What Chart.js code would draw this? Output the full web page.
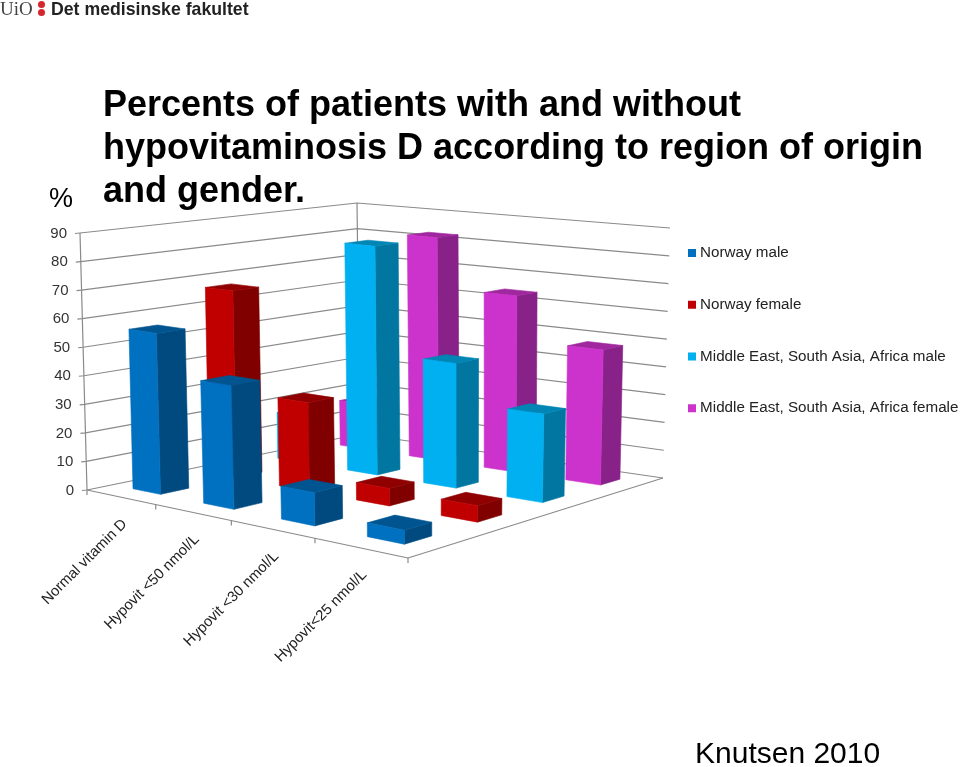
<!DOCTYPE html>
<html>
<head>
<meta charset="utf-8">
<title>Percents of patients with and without hypovitaminosis D</title>
<script src="https://cdn.jsdelivr.net/npm/chart.js@4"></script>
<style>
html,body{margin:0;padding:0;background:#fff;width:960px;height:767px;overflow:hidden}
#wrap{position:relative;width:960px;height:767px}
canvas{position:absolute;left:0;top:0}
.t{position:absolute;white-space:nowrap;font-family:"Liberation Sans",Arial,sans-serif;color:#000}
.dot{position:absolute;width:7px;height:7px;border-radius:50%;background:#d5262d}
</style>
</head>
<body>
<div id="wrap">
<canvas id="c" width="960" height="767"></canvas>
<div class="t" style="left:0;top:0;font:19px/18px 'Liberation Serif',serif;color:#444">UiO</div>
<div class="dot" style="left:38px;top:1px"></div>
<div class="dot" style="left:38px;top:9px"></div>
<div class="t" style="left:51px;top:0;font-weight:bold;font-size:17.7px;line-height:18px;color:#222">Det medisinske fakultet</div>
<div class="t" style="left:103px;top:82px;font-weight:bold;font-size:36px;line-height:43px">Percents of patients with and without<br>hypovitaminosis D according to region of origin<br>and gender.</div>
<div class="t" style="left:49px;top:183px;font-size:27px;line-height:30px">%</div>
<div class="t" style="left:695px;top:736px;font-size:30px;line-height:34px">Knutsen 2010</div>
</div>
<script>
const categories = ["Normal vitamin D", "Hypovit <50 nmol/L", "Hypovit <30 nmol/L", "Hypovit<25 nmol/L"];
const seriesNames = ["Norway male", "Norway female", "Middle East, South Asia, Africa male", "Middle East, South Asia, Africa female"];
const norwayMale = [56, 42, 11, 4.5];
const norwayFemale = [67, 31, 6, 5.5];
const meaMale = [17, 82.5, 44, 30.5];
const meaFemale = [17, 82.5, 64, 48];
const seriesValues = [norwayMale, norwayFemale, meaMale, meaFemale];
const frontColors = ["#0070C0", "#C00000", "#00B0F0", "#CC33CC"];
const sideColors = ["#004A80", "#800000", "#0076A0", "#882288"];
const topColors = ["#005590", "#900000", "#0085B5", "#A0289F"];
const yMin = 0, yMax = 90, yStep = 10;

// Perspective of the 3-D box the chart stands in: floor and ceiling quads
const floorCorners = [[87,490],[408,558],[663,478],[360,434]];
const ceilCorners = [[80,233],[408,273],[670,228],[357,203]];
const halfBarU = 0.05, halfBarV = 0.045;

function quad(corners){
  const [[x0,y0],[x1,y1],[x2,y2],[x3,y3]] = corners;
  const dx1=x1-x2, dy1=y1-y2, dx2=x3-x2, dy2=y3-y2, dx3=x0-x1+x2-x3, dy3=y0-y1+y2-y3;
  const den=dx1*dy2-dx2*dy1;
  const g=(dx3*dy2-dx2*dy3)/den, h=(dx1*dy3-dx3*dy1)/den;
  const a=x1-x0+g*x1, b=x3-x0+h*x3, c=x0, d=y1-y0+g*y1, e=y3-y0+h*y3, f=y0;
  return (u,v)=>{
    const w=g*u+h*v+1;
    return [(a*u+b*v+c)/w,(d*u+e*v+f)/w];
  };
}
const floorMap = quad(floorCorners), ceilMap = quad(ceilCorners);
function P(u,v,t){
  const a=floorMap(u,v), b=ceilMap(u,v);
  return [a[0]+(b[0]-a[0])*t, a[1]+(b[1]-a[1])*t];
}

function poly(ctx,pts,fill){
  ctx.beginPath();
  pts.forEach((pt,i)=>i?ctx.lineTo(pt[0],pt[1]):ctx.moveTo(pt[0],pt[1]));
  ctx.closePath();
  ctx.fillStyle=fill;
  ctx.fill();
  ctx.strokeStyle=fill;
  ctx.lineWidth=0.6;
  ctx.stroke();
}
function line(ctx,a,b){
  ctx.beginPath();ctx.moveTo(a[0],a[1]);ctx.lineTo(b[0],b[1]);ctx.stroke();
}

const scene3d = {
  id:"scene3d",
  beforeDraw(chart){
    const lg=chart.legend, top=209;
    const h=lg.bottom-lg.top;
    lg.top=top; lg.bottom=top+h;
    const w=lg.right-lg.left;
    lg.left=655; lg.right=655+w;
  },
  beforeDatasetsDraw(chart){
    const {ctx,scales:{x,y}}=chart;
    const frac=v=>(y.bottom-y.getPixelForValue(v))/y.height;
    const uOf=i=>(x.getPixelForValue(i)-x.left)/x.width;
    const cell=1/categories.length;
    ctx.save();
    // walls
    ctx.strokeStyle="#8a8a8a";
    ctx.lineWidth=1.2;
    y.ticks.forEach(t=>{
      const h=frac(t.value);
      const a=P(0,0,h), d=P(0,1,h), c=P(1,1,h);
      ctx.beginPath();
      ctx.moveTo(a[0]-5,a[1]+0.5);
      ctx.lineTo(a[0],a[1]);ctx.lineTo(d[0],d[1]);ctx.lineTo(c[0],c[1]);
      ctx.stroke();
      ctx.fillStyle="#333";
      ctx.font="15px 'Liberation Sans'";
      ctx.textAlign="right";ctx.textBaseline="middle";
      ctx.fillText(t.label,a[0]-13,a[1]+0.5);
    });
    line(ctx,P(0,0,0),P(0,0,1));
    line(ctx,P(0,1,0),P(0,1,1));
    // floor edges and category ticks
    line(ctx,P(0,0,0),P(1,0,0));
    line(ctx,P(1,0,0),P(1,1,0));
    for(let k=0;k<=categories.length;k++){
      const b=P(k*cell,0,0);
      line(ctx,b,[b[0],b[1]+5]);
    }
    // boxes, back row first
    for(let s=seriesValues.length-1;s>=0;s--){
      const vc=(s+0.5)/seriesValues.length;
      const v0=vc-halfBarV, v1=vc+halfBarV;
      categories.forEach((_,i)=>{
        const uc=uOf(i), u0=uc-halfBarU, u1=uc+halfBarU;
        const t=frac(seriesValues[s][i]);
        poly(ctx,[P(u1,v0,0),P(u1,v1,0),P(u1,v1,t),P(u1,v0,t)],sideColors[s]);
        poly(ctx,[P(u0,v0,t),P(u1,v0,t),P(u1,v1,t),P(u0,v1,t)],topColors[s]);
        poly(ctx,[P(u0,v0,0),P(u1,v0,0),P(u1,v0,t),P(u0,v0,t)],frontColors[s]);
      });
    }
    // category labels
    ctx.fillStyle="#222";
    ctx.font="14.8px 'Liberation Sans'";
    ctx.textAlign="right";ctx.textBaseline="top";
    categories.forEach((lab,i)=>{
      const b=P(uOf(i),0,0);
      ctx.save();
      ctx.translate(b[0]-1,b[1]+19.5);
      ctx.rotate(-Math.PI/4);
      ctx.fillText(lab,0,0);
      ctx.restore();
    });
    ctx.restore();
    return false;
  }
};

new Chart(document.getElementById("c"),{
  type:"bar",
  data:{
    labels:categories,
    datasets:seriesNames.map((n,s)=>({label:n,data:seriesValues[s],backgroundColor:frontColors[s]}))
  },
  plugins:[scene3d],
  options:{
    responsive:false,
    animation:false,
    layout:{padding:{top:233,bottom:277,left:0,right:0}},
    scales:{
      x:{display:false,offset:true},
      y:{display:false,min:yMin,max:yMax,ticks:{stepSize:yStep}}
    },
    plugins:{
      title:{display:false},
      tooltip:{enabled:false},
      legend:{
        display:true,position:"right",align:"start",
        labels:{
          usePointStyle:true,pointStyle:"rect",boxWidth:1,boxHeight:8,
          padding:36.5,color:"#222",
          font:{family:"Liberation Sans",size:15.2}
        }
      }
    }
  }
});
</script>
</body>
</html>
